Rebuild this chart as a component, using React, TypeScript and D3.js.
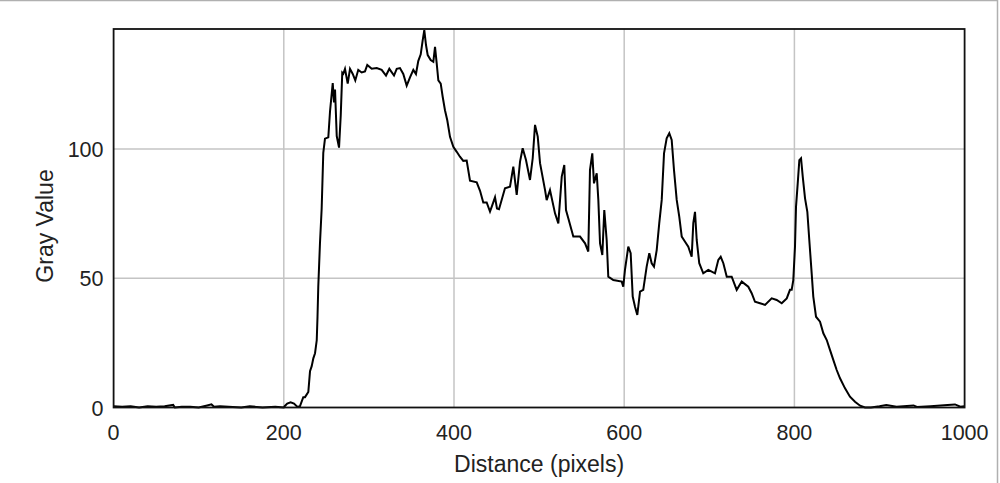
import React from "react";
import * as d3 from "d3";

const distances = [
  0, 10, 20, 30, 40, 50, 60, 70, 72, 80, 90, 100, 110, 115, 118, 125, 135, 150, 160, 175, 190, 200,
  201, 204, 208, 212, 216, 219, 222.9, 224.9, 228.8, 230.8, 232.8, 234.7, 236.7, 238.7, 239.6, 240.5,
  242.5, 244.5, 246.4, 248.4, 252.3, 254.3, 257.5, 259, 260.2, 262.2, 264.9, 266.9, 268.7, 269.9,
  271.9, 275.1, 277.8, 281, 284, 287.5, 291.5, 295.4, 298.1, 303.3, 309.2, 315, 320.1, 324, 329.5,
  332.7, 336.5, 340.4, 344.4, 348.3, 352.2, 355.3, 358, 360.9, 363.2, 365.1, 367.1, 369.1, 372.6,
  375.7, 377.7, 379.7, 381.6, 384.4, 386.7, 389.4, 392.1, 395.3, 399.2, 403.2, 407, 410.9, 414.9,
  418.8, 426.7, 430.6, 434.4, 438.4, 442.3, 444.7, 448.2, 450.5, 452.9, 459.9, 465.8, 469.7, 473.7,
  477.6, 480.7, 484.6, 489.3, 492.5, 495.2, 498.4, 501.1, 507, 508.9, 512.8, 518.7, 522.6, 526.6,
  529.6, 531.6, 534.3, 540.2, 548.1, 554, 557.8, 559.8, 562.5, 564.5, 567.7, 569.6, 571.6, 574.3,
  576.6, 579.4, 581.3, 587.2, 597.1, 598.9, 600.9, 604.8, 607.6, 610, 612.7, 615.4, 618.6, 622.4,
  626.4, 629.5, 632.3, 635, 638.2, 641.2, 644.1, 646.8, 649.9, 653, 655.8, 658.5, 661.7, 664.7,
  667.6, 671.5, 675.3, 679.3, 681.2, 683.2, 685.2, 688.2, 692.9, 698.8, 706.7, 710.6, 713.4, 716.5,
  720.5, 726.3, 732.2, 738.1, 745.8, 749.8, 753.7, 759.6, 765.5, 773.3, 779.2, 785.1, 791, 794.8,
  796.8, 798.7, 800.7, 801.9, 803.9, 805.8, 807.8, 809.8, 812.5, 815.2, 817.5, 820.3, 822.2, 825.4,
  830.1, 834, 838, 841.9, 845.7, 849.7, 853.6, 859.5, 865.3, 871.2, 877.2, 883, 890, 900, 908, 920,
  940, 944, 960, 980, 988.7, 995, 1000,
];

const grayValues = [
  0.5, 0.3, 0.5, 0, 0.5, 0.3, 0.5, 1, 0, 0.3, 0.3, 0, 0.8, 1.2, 0.3, 0.5, 0.3, 0, 0.5, 0, 0.3, 0,
  0.5, 1.5, 2, 1.5, 0.2, 0.5, 4, 4, 6, 14, 16, 19, 21, 26, 35, 46.6,
  63.5, 77, 98.5, 104, 104.5, 114.5, 125.5, 118, 123, 105, 100.5, 113, 129.5, 129.1,
  131, 125.3, 131, 129, 126.5, 130.6, 129.6, 130, 132.5, 131, 131.3, 130.6, 128.4, 131, 128.4,
  131, 131.3, 129, 124.5, 127.7, 130.6, 129, 134, 136.6, 142, 146, 140.2, 136.3, 134.4,
  133.7, 139.5, 133, 126.5, 125.3, 120.2, 115, 111.1, 104.7, 100.8, 98.9, 97, 95.4, 95.5,
  87.7, 87.1, 83.8, 79.3, 79.3, 75.8, 78, 81.3, 77, 76.7, 84.8, 85.4, 93.2, 82.2,
  95.1, 100.3, 95.7, 88, 96.4, 109.3, 104.8, 94.5, 84.1, 80.2, 84.1, 75.1, 71.2, 89.3,
  93.8, 76.4, 73.2, 66.1, 66.1, 63.5, 60.3, 91.9, 98.3, 86.7, 90.6, 80.3, 63.5, 59,
  76.4, 64.8, 50.6, 49.3, 48.7, 46.7, 53.2, 62.2, 59.7, 42.9, 39, 35.8, 44.8, 45.5,
  54.5, 59.7, 55.8, 54.5, 60.9, 71.3, 80.3, 98.3, 104.1, 106.1, 103.5, 91.9, 80.3, 73.8,
  66.1, 64.1, 62.2, 58.3, 71.3, 75.7, 64.8, 55.8, 51.9, 53.2, 51.9, 57.1, 58.3, 55.8,
  50.6, 50.6, 45.5, 48.7, 46.7, 44.2, 40.9, 40.3, 39.7, 42.2, 41.6, 40.3, 42.2, 45.5,
  45.5, 49.3, 62.2, 77.7, 86.7, 95.7, 96.4, 89.3, 80.9, 75.7, 64.8, 51.9, 42.9, 35.1,
  33.2, 28.7, 26.1, 22.2, 18.4, 14.5, 11.3, 7.4, 4.2, 2.2, 0.7, 0, 0, 0.5, 1, 0.3,
  0.8, 0.2, 0.5, 1, 1.2, 0.3, 0.5,
];

const xTicks = [0, 200, 400, 600, 800, 1000];
const yTicks = [0, 50, 100];
const xGrid = [200, 400, 600, 800];
const yGrid = [50, 100];
const xTitle = "Distance (pixels)";
const yTitle = "Gray Value";

const W = 1000;
const H = 483;
const left = 113.6;
const right = 964.6;
const top = 29;
const bottom = 407.5;
const yMax = 146.4;

export default function App() {
  const x = d3.scaleLinear().domain([0, 1000]).range([left, right]);
  const y = d3.scaleLinear().domain([0, yMax]).range([bottom, top]);
  const pts: [number, number][] = distances.map((d, i) => [d, grayValues[i]]);
  const line = d3
    .line<[number, number]>()
    .x((p) => x(p[0]))
    .y((p) => y(p[1]));
  const font = "'Liberation Sans', Arial, sans-serif";
  return (
    <svg
      width={W}
      height={H}
      style={{ position: "absolute", left: 0, top: 0, background: "#fff" }}
    >
      <rect x={0} y={0} width={W} height={H} fill="#fff" />
      <line x1={0} x2={998} y1={0.5} y2={0.5} stroke="#b0b0b0" strokeWidth={1.5} />
      <line x1={997.5} x2={997.5} y1={0} y2={H} stroke="#b0b0b0" strokeWidth={1.5} />
      {xGrid.map((t) => (
        <line key={"gx" + t} x1={x(t)} x2={x(t)} y1={top} y2={bottom} stroke="#c4c4c4" strokeWidth={1.5} />
      ))}
      {yGrid.map((t) => (
        <line key={"gy" + t} x1={left} x2={right} y1={y(t)} y2={y(t)} stroke="#c4c4c4" strokeWidth={1.5} />
      ))}
      <path d={line(pts) || ""} fill="none" stroke="#000" strokeWidth={2} strokeLinejoin="miter" />
      <rect
        x={left}
        y={top}
        width={right - left}
        height={bottom - top}
        fill="none"
        stroke="#111"
        strokeWidth={1.8}
      />
      {yTicks.map((t) => (
        <text
          key={"ty" + t}
          x={103.5}
          y={y(t) + 8}
          textAnchor="end"
          fontFamily={font}
          fontSize={21.5}
          fill="#222"
        >
          {t}
        </text>
      ))}
      {xTicks.map((t) => (
        <text
          key={"tx" + t}
          x={x(t)}
          y={440}
          textAnchor="middle"
          fontFamily={font}
          fontSize={21.5}
          fill="#222"
        >
          {t}
        </text>
      ))}
      <text x={(left + right) / 2} y={472} textAnchor="middle" fontFamily={font} fontSize={23} fill="#222">
        {xTitle}
      </text>
      <text
        transform={`translate(53,226) rotate(-90)`}
        textAnchor="middle"
        fontFamily={font}
        fontSize={23}
        fill="#222"
      >
        {yTitle}
      </text>
    </svg>
  );
}
